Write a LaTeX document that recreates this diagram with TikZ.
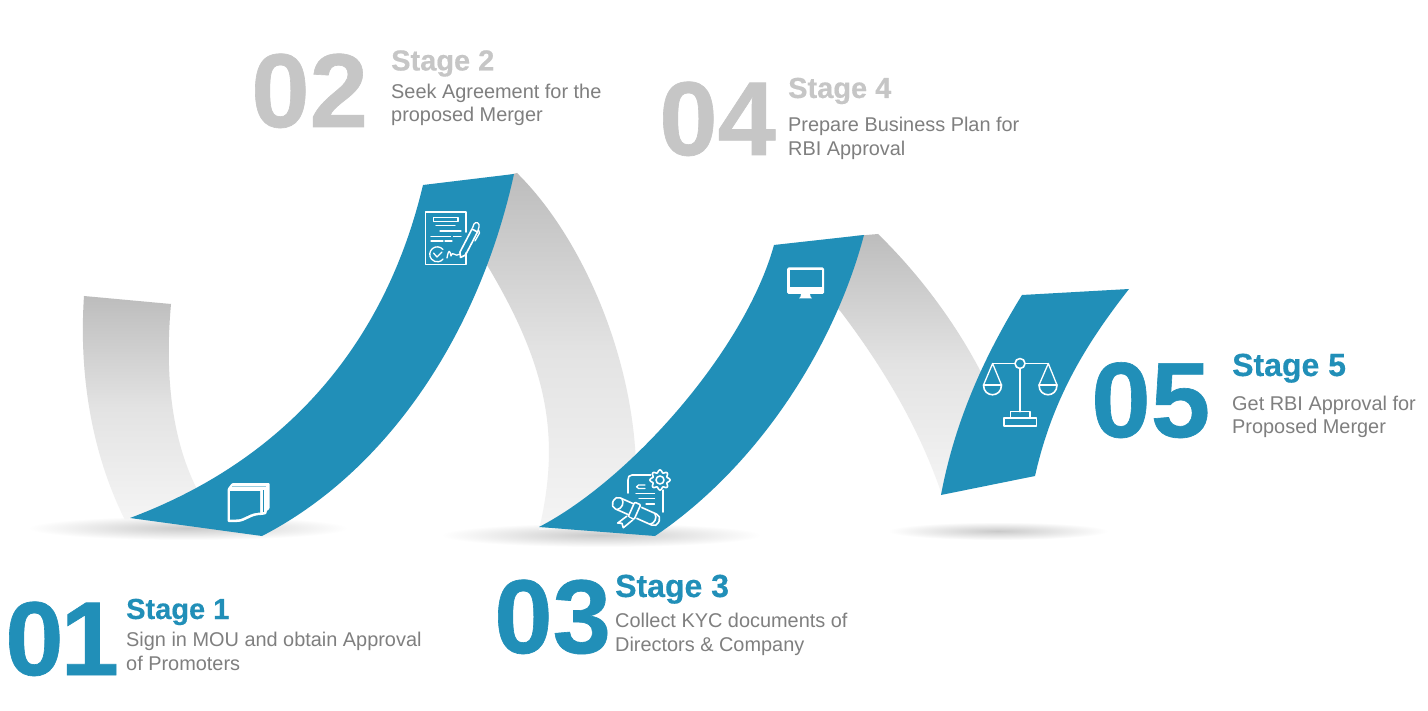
\documentclass[tikz,border=0pt]{standalone}
\usepackage{fontspec}
\setmainfont{Liberation Sans}
\newfontfamily\numfont{Liberation Sans}[BoldFeatures={FakeBold=0.6}]
\newfontfamily\stagefont{Liberation Sans}[BoldFeatures={FakeBold=0.4}]
\definecolor{bandblue}{HTML}{218FB8}
\definecolor{numgray}{HTML}{C6C6C6}
\definecolor{bodygray}{HTML}{7F7F7F}
\tikzset{
  blueband/.style={fill=bandblue,draw=none},
  grayband/.style={top color=black!26,bottom color=black!4,middle color=black!11,draw=none},
  floorshadow/.style={inner color=black!21,outer color=white,draw=none},
  numtext/.style={anchor=base west,inner sep=0pt,font=\fontsize{105}{105}\selectfont\numfont\bfseries},
  stagetext/.style={anchor=base west,inner sep=0pt,font=\fontsize{29}{29}\selectfont\stagefont\bfseries},
  stagebig/.style={stagetext,font=\fontsize{32}{32}\selectfont\stagefont\bfseries},
  bodytext/.style={anchor=base west,inner sep=0pt,font=\fontsize{19.9}{19.9}\selectfont,text=bodygray},
  iconline/.style={draw=white,line width=1.6pt,line cap=round,line join=round},
  iconthin/.style={draw=white,line width=1.3pt,line cap=round,line join=round}
}
\begin{document}
\begin{tikzpicture}[x=1pt,y=-1pt]
\useasboundingbox[fill=white] (0,0) rectangle (1428,711);
% floor shadows
\shade[floorshadow] (188,528) ellipse [x radius=160,y radius=12];
\shade[floorshadow] (601,535) ellipse [x radius=160,y radius=12];
\shade[floorshadow] (998,531) ellipse [x radius=110,y radius=9];
% grey bands
\shade[grayband] (84,296) .. controls (79,370) and (90,450) .. (125,520)
  -- (200,495) .. controls (170,440) and (165,370) .. (171,304) -- cycle;
\shade[grayband] (505,176) -- (517,173) .. controls (585,240) and (640,370) .. (636,490)
  -- (636,525) -- (539,530) .. controls (560,440) and (550,370) .. (487,265) -- (475,255) -- cycle;
\shade[grayband] (855,236) -- (878,234) .. controls (915,270) and (955,320) .. (985,380)
  -- (942,495) .. controls (920,430) and (885,370) .. (841,312) -- (830,300) -- cycle;
% blue bands
\fill[blueband] (130,518) .. controls (285,460) and (385,345) .. (423,185)
  -- (514,174) .. controls (480,330) and (390,470) .. (262,536) -- cycle;
\fill[blueband] (539,527) .. controls (630,480) and (745,350) .. (774,245)
  -- (864,235) .. controls (835,345) and (760,465) .. (655,536) -- cycle;
\fill[blueband] (941,495) .. controls (955,420) and (985,355) .. (1022,295)
  -- (1129,289) .. controls (1085,345) and (1052,400) .. (1035,476) -- cycle;
% icon 1: stack of sheets
\fill[white,rounded corners=1pt] (227.5,489) -- (232,483) -- (269.5,483) -- (269.5,509) -- (266.5,511) -- (266.5,514)
  -- (262,515) .. controls (250,515) and (246,522) .. (236,522) -- (227.5,522) -- cycle;
\fill[bandblue] (230,491) -- (260,491) -- (260,512.5) .. controls (248,513) and (245,519.5) .. (236,519.5) -- (230,519.5) -- cycle;
\draw[draw=bandblue!45!white,line width=0.8pt] (232,486.5) -- (266,486.5);
\draw[draw=bandblue,line width=0.8pt] (263.5,490) -- (263.5,512);
% icon 2: document and pen
\draw[iconline] (466,232) -- (466,212) -- (425.5,212) -- (425.5,264.5) -- (466,264.5) -- (466,253);
\draw[iconthin] (433.5,217.5) -- (458,217.5) -- (458,221.5) -- (433.5,221.5) -- cycle;
\draw[iconthin] (436,225.5) -- (455,225.5);
\draw[iconthin] (440,231) -- (461,231);
\draw[iconthin] (431,236.5) -- (450.5,236.5);
\draw[iconthin] (453.5,236.5) -- (461,236.5);
\draw[iconthin] (431,241) -- (443,241);
\draw[iconthin] (445,241) -- (452,241);
\draw[iconthin] (443,249.5) arc [start angle=40,end angle=320,radius=7.5pt];
\draw[iconthin] (433.5,253) -- (437,257) -- (442,252);
\draw[iconthin] (447,258) .. controls (448.5,249) and (450,250) .. (451,256) .. controls (453,250) and (455,258) .. (460,254);
\draw[iconline] (460,252) -- (472,229) -- (477.5,232) -- (465.5,255) -- (460.5,257.5) -- cycle;
\draw[iconthin] (472.5,228) -- (474,224) .. controls (476,221) and (480,223) .. (479,227) -- (477.5,232);
\draw[iconthin] (478.5,230) -- (479.5,233) -- (475,241);
% icon 3: monitor
\fill[white,rounded corners=1.5pt] (787,267.5) rectangle (824,294);
\fill[bandblue] (789.5,269.8) rectangle (821.8,286.7);
\fill[white] (801,294) -- (810,294) -- (810.5,296.5) -- (812,298.5) -- (799,298.5) -- (800.5,296.5) -- cycle;
% icon 4: certificate, gear, scroll
\draw[iconline] (651,475) -- (632,475) .. controls (629,475) and (628,477) .. (628,480) -- (628,493);
\draw[iconline] (662.7,490) -- (662.7,512);
\draw[iconthin] (645,485) -- (638.5,485) .. controls (636,485) and (636,488.5) .. (638.5,488.5) -- (645,488.5);
\draw[iconthin] (636,493.5) -- (654.5,493.5);
\draw[iconthin] (639,498.5) -- (654.5,498.5);
\draw[iconthin] (646,504) -- (654.5,504);
\fill[bandblue] (660,480) circle [radius=10];
\draw[iconline,smooth] plot[domain=0:360,samples=97] ({660+(8.8+1.3*cos(8*\x))*cos(\x)},{480+(8.8+1.3*cos(8*\x))*sin(\x)});
\draw[iconline] (660,480) circle [radius=4];
\begin{scope}[shift={(636,511.5)},rotate=-24]
  \fill[bandblue] (-25,-8) rectangle (25,8);
  \draw[iconline,rounded corners=5pt] (-25,-6) rectangle (25,6);
  \draw[iconline] (-18,-6) .. controls (-14,-3) and (-14,3) .. (-18,6);
  \draw[iconline] (18,-6) .. controls (22,-3) and (22,3) .. (18,6);
  \fill[bandblue] (-5,-8) rectangle (3,8);
  \draw[iconline,rounded corners=1pt] (-5,-8) rectangle (1.5,8);
  \fill[bandblue] (-7,8) -- (-12,18) -- (-8,16.5) -- (-5,20) -- (1,9) -- cycle;
  \draw[iconline] (-6.5,8) -- (-12,18) -- (-8,16.5) -- (-5,20) -- (0.5,9);
\end{scope}
% icon 5: scales
\draw[iconline] (1020,368.5) -- (1020,411.7);
\draw[iconline] (992.6,363.5) -- (1015,363.5);
\draw[iconline] (1025,363.5) -- (1048.3,363.5);
\draw[iconline] (1020,363.5) circle [radius=5];
\draw[iconthin] (983.5,385) -- (992.6,363.5) -- (1001.5,385);
\draw[iconthin] (1039,385) -- (1048.3,363.5) -- (1057,385);
\draw[iconline] (983.5,385) -- (1001.5,385) .. controls (1001.5,398) and (983.5,398) .. cycle;
\draw[iconline] (1039,385) -- (1057,385) .. controls (1057,398) and (1039,398) .. cycle;
\draw[iconline] (1010.5,411.7) rectangle (1030,418.3);
\draw[iconline] (1004,418.3) rectangle (1036.5,426);
% texts
\node[numtext,text=bandblue] (n1) at (5,675) {0\kern-3pt 1};
\node[stagetext,text=bandblue] (s1) at (126,619) {Stage 1};
\node[bodytext] (b1a) at (126,646) {Sign in MOU and obtain Approval};
\node[bodytext] (b1b) at (126,670) {of Promoters};
\node[numtext,text=numgray] (n2) at (251,127) {02};
\node[stagetext,text=numgray] (s2) at (391,70.5) {Stage 2};
\node[bodytext] (b2a) at (391,98.5) {Seek Agreement for the};
\node[bodytext] (b2b) at (391,122) {proposed Merger};
\node[numtext,text=bandblue] (n3) at (494,653) {03};
\node[stagebig,text=bandblue] (s3) at (615,597) {Stage 3};
\node[bodytext] (b3a) at (615,627) {Collect KYC documents of};
\node[bodytext] (b3b) at (615,651) {Directors \& Company};
\node[numtext,text=numgray] (n4) at (659,155) {04};
\node[stagetext,text=numgray] (s4) at (788,98) {Stage 4};
\node[bodytext] (b4a) at (788,131.5) {Prepare Business Plan for};
\node[bodytext] (b4b) at (788,156) {RBI Approval};
\node[numtext,text=bandblue,font=\fontsize{107}{107}\selectfont\numfont\bfseries] (n5) at (1091,437) {05};
\node[stagebig,text=bandblue] (s5) at (1232,376) {Stage 5};
\node[bodytext] (b5a) at (1232,410) {Get RBI Approval for};
\node[bodytext] (b5b) at (1232,434) {Proposed Merger};
\end{tikzpicture}
\end{document}
